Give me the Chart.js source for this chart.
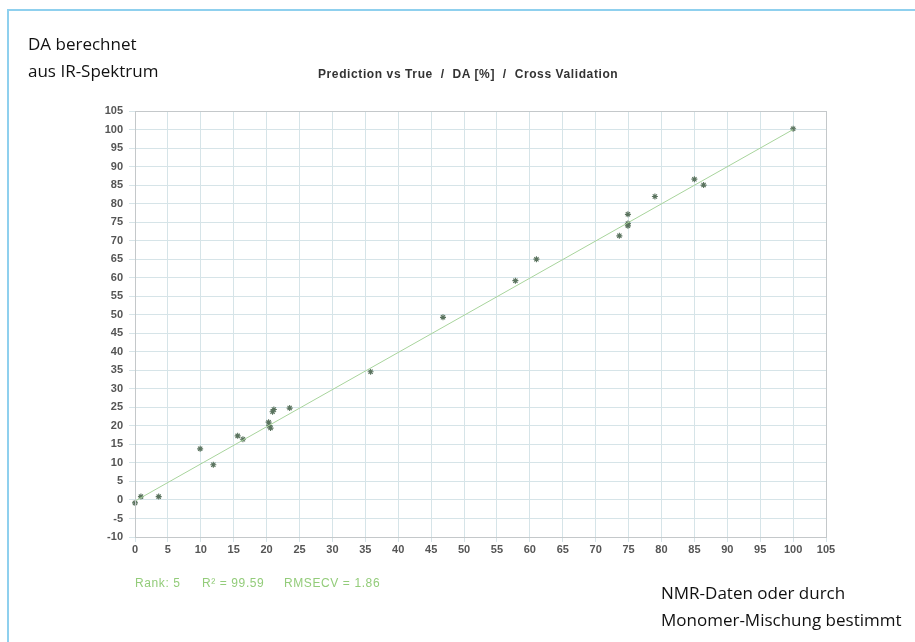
<!DOCTYPE html>
<html>
<head>
<meta charset="utf-8">
<script src="https://cdn.jsdelivr.net/npm/chart.js@4/dist/chart.umd.min.js"></script>
<style>
  html, body { margin: 0; padding: 0; background: #fff; }
  #wrap { position: relative; width: 915px; height: 642px; overflow: hidden; }
  #frame { position: absolute; left: 7px; top: 9px; right: -5px; bottom: -5px;
           border-top: 2px solid #8fd0ee; border-left: 2px solid #8fd0ee; }
  canvas { position: absolute; left: 0; top: 0; }
  .lbl { position: absolute; font-family: "Open Sans", sans-serif; font-size: 17px; color: #111; white-space: nowrap; line-height: 27px; }
  .ttl { position: absolute; font-family: "Liberation Sans", Arial, sans-serif; font-weight: bold; font-size: 12px; letter-spacing: 0.6px; color: #333; white-space: pre; }
  .stat { position: absolute; font-family: "Liberation Sans", Arial, sans-serif; font-size: 12px; letter-spacing: 0.6px; color: #93cc7a; white-space: nowrap; }
</style>
</head>
<body>
<div id="wrap">
  <div id="frame"></div>
  <canvas id="chart" width="915" height="642"></canvas>
  <div class="lbl" style="left:28px; top:30px;">DA berechnet<br>aus IR-Spektrum</div>
  <div class="ttl" style="left:318px; top:67px;">Prediction vs True  /  DA [%]  /  Cross Validation</div>
  <div class="stat" style="left:135px; top:576px;">Rank: 5</div>
  <div class="stat" style="left:202px; top:576px;">R² = 99.59</div>
  <div class="stat" style="left:284px; top:576px;">RMSECV = 1.86</div>
  <div class="lbl" style="left:661px; top:579px;">NMR-Daten oder durch<br>Monomer-Mischung bestimmt</div>
</div>
<script>
// true (NMR / mixture) vs predicted DA values
const trueValues =      [0,   0.9, 3.6, 9.9,  11.9, 15.6, 16.4, 20.3, 20.4, 20.6, 20.9, 21.1, 23.5, 35.8, 46.8, 57.8, 61.0, 73.6, 74.9, 74.9, 74.9, 79.0, 85.0, 86.4, 100];
const predictedValues = [-0.8, 0.9, 0.9, 13.8, 9.5,  17.3, 16.4, 21.0, 20.1, 19.4, 23.8, 24.4, 24.8, 34.6, 49.3, 59.2, 65.0, 71.3, 74.0, 74.6, 77.1, 81.9, 86.6, 85.0, 100.2];

// regression line end points
const fitX = [0, 100];
const fitY = [-0.3, 100];

const xMin = 0, xMax = 105, xStep = 5;
const yMin = -10, yMax = 105, yStep = 5;

const points = trueValues.map((x, i) => ({ x: x, y: predictedValues[i] }));
const fitLine = fitX.map((x, i) => ({ x: x, y: fitY[i] }));

const tickFont = { family: 'Liberation Sans, Arial, sans-serif', size: 11, weight: 'bold' };

new Chart(document.getElementById('chart'), {
  type: 'scatter',
  data: {
    datasets: [
      {
        type: 'line',
        data: fitLine,
        borderColor: '#a8d49c',
        borderWidth: 1,
        pointRadius: 0,
        fill: false,
      },
      {
        data: points,
        clip: false,
        pointStyle: 'star',
        pointRadius: 3,
        borderColor: '#5a735e',
        backgroundColor: '#5a735e',
        borderWidth: 1.1,
      },
    ],
  },
  options: {
    responsive: false,
    animation: false,
    layout: { padding: { left: 100, right: 89, top: 111, bottom: 75 } },
    plugins: {
      legend: { display: false },
      tooltip: { enabled: false },
    },
    scales: {
      x: {
        type: 'linear',
        min: xMin,
        max: xMax,
        afterFit: (s) => { s.height = 30; },
        ticks: { stepSize: xStep, font: tickFont, color: '#555', padding: 1, maxRotation: 0, autoSkip: false },
        grid: { color: '#d6e4e8', tickLength: 5, tickColor: '#d6e4e8' },
        border: { color: '#c4c8ca' },
      },
      y: {
        type: 'linear',
        min: yMin,
        max: yMax,
        afterFit: (s) => { s.width = 35; },
        ticks: { stepSize: yStep, font: tickFont, color: '#555', padding: 6, autoSkip: false },
        grid: { color: '#d6e4e8', tickLength: 6, tickColor: '#d6e4e8' },
        border: { color: '#c4c8ca' },
      },
    },
  },
  plugins: [{
    id: 'frameBox',
    afterDraw(chart) {
      const { ctx, chartArea: a } = chart;
      ctx.save();
      ctx.strokeStyle = '#c4c8ca';
      ctx.lineWidth = 1;
      ctx.strokeRect(a.left + 0.5, a.top + 0.5, a.right - a.left, a.bottom - a.top);
      ctx.restore();
    },
  }],
});
</script>
</body>
</html>
